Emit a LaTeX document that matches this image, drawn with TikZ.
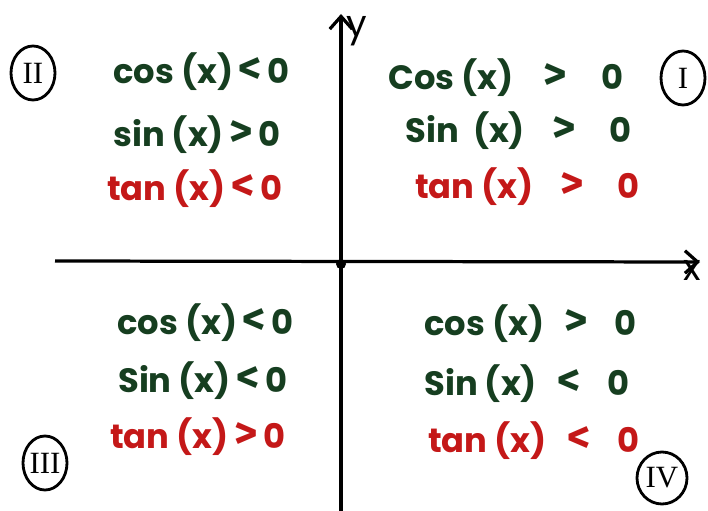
\documentclass[tikz,border=0pt]{standalone}
\usepackage{fontspec}
\setmainfont{Poppins}
\newfontfamily\numfont{Liberation Serif}
\newfontfamily\relfont{Fira Sans}
\newcommand\signlt{{\relfont\bfseries\fontsize{32}{32}\selectfont <}}
\newcommand\signgt{{\relfont\bfseries\fontsize{32}{32}\selectfont >}}
\usepackage{tikz}
\usetikzlibrary{arrows.meta,positioning,shapes.geometric}
\definecolor{SignGreen}{RGB}{22,62,32}
\definecolor{SignRed}{RGB}{196,24,24}
\begin{document}
\begin{tikzpicture}[x=0.025cm,y=-0.025cm,
    trig/.style={font=\bfseries\fontsize{24}{28}\selectfont,text=SignGreen,anchor=west,inner sep=0pt},
    tang/.style={trig,text=SignRed},
    quad/.style={ellipse,draw,line width=2pt,inner sep=0pt,minimum width=1.1cm,minimum height=1.35cm,
                 font=\numfont\fontsize{22}{24}\selectfont},
    axis/.style={line width=2.3pt,-{Straight Barb[length=9pt,width=16pt,line width=2.3pt]}},
    lbl/.style={font=\fontsize{26}{28}\selectfont,inner sep=0pt}
  ]
  \useasboundingbox (0,0) rectangle (708,511);
  \coordinate (xs) at (55,261);
  \coordinate (xe) at (700,262);
  \coordinate (ys) at (341,511);
  \coordinate (ye) at (341,14);
  \coordinate (o) at (341,264);
  \draw[axis] (xs)--(xe);
  \draw[axis] (ys)--(ye);
  \fill (o) circle (5);
  \node[lbl] (xl) at (692,270) {x};
  \node[lbl] (yl) at (357,31) {y};
  % quadrant II
  \node[trig] (c2) at (113,72) {cos (x)\,\signlt\,0};
  \node[trig] (s2) at (113,135) {sin (x)\,\signgt\,0};
  \node[tang] (t2) at (107,189) {tan (x)\,\signlt\,0};
  % quadrant I
  \node[trig] (c1) at (388,78) {Cos (x)\hspace{0.9em}\signgt\hspace{1em}0};
  \node[trig] (s1) at (405,131) {Sin \ (x)\hspace{0.8em}\signgt\hspace{1em}0};
  \node[tang] (t1) at (415,187) {tan (x)\hspace{0.8em}\signgt\hspace{1em}0};
  % quadrant III
  \node[trig] (c3) at (117,323) {cos (x)\,\signlt\,0};
  \node[trig] (s3) at (118,381) {Sin (x)\,\signlt\,0};
  \node[tang] (t3) at (110,437) {tan (x)\,\signgt\,0};
  % quadrant IV
  \node[trig] (c4) at (424,324) {cos (x)\hspace{0.6em}\signgt\hspace{0.8em}0};
  \node[trig] (s4) at (424,384) {Sin (x)\hspace{0.6em}\signlt\hspace{0.8em}0};
  \node[tang] (t4) at (428,441) {tan (x)\hspace{0.6em}\signlt\hspace{0.8em}0};
  \node[quad] (q2) at (33,73) {II};
  \node[quad] (q1) at (683,78) {I};
  \node[quad] (q3) at (45,463) {III};
  \node[quad,minimum width=1.25cm,minimum height=1.3cm] (q4) at (662,478) {IV};
\end{tikzpicture}
\end{document}
